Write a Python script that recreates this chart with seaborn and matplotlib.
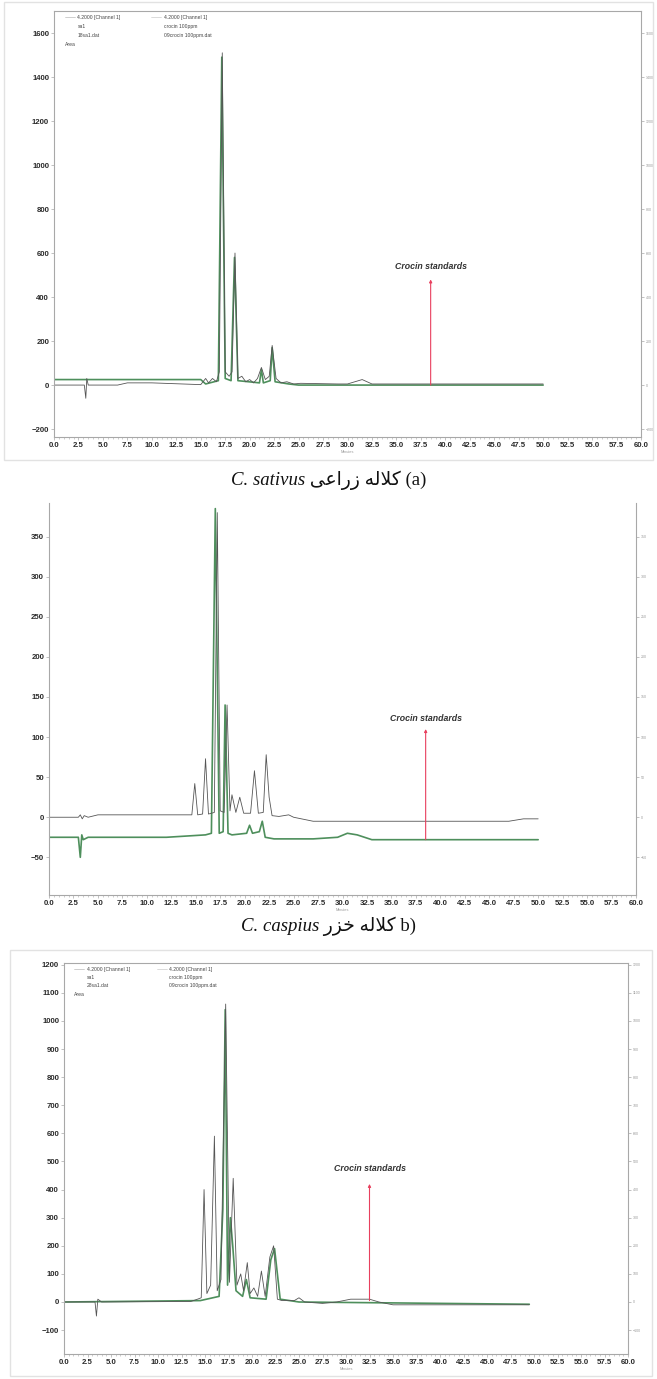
import matplotlib
matplotlib.use("Agg")
import matplotlib.pyplot as plt
import seaborn as sns
from matplotlib.offsetbox import TextArea, HPacker, AnnotationBbox
from matplotlib.ticker import MultipleLocator, FormatStrFormatter

sns.set_theme(style="white")
plt.rcParams['font.family'] = ['Liberation Sans', 'DejaVu Sans']

# ---------------- data ----------------
# Panel (a) C. sativus
a_sample_t = [0, 3.1, 3.25, 3.35, 3.5, 6.5, 7.5, 10.0, 15.0, 15.5, 15.8, 16.2, 16.6, 16.9, 17.2, 17.5, 17.9, 18.2, 18.5,
              18.8, 19.2, 19.6, 20.0, 20.4, 20.8, 21.2, 21.6, 22.0, 22.3, 22.7, 23.2, 23.8, 24.5, 25.2, 29.0, 30.0, 31.5,
              32.5, 50.0]
a_sample_y = [0, 0, -60, 30, 0, 0, 10, 10, 2, 30, 10, 30, 15, 60, 1510, 60, 40, 60, 600,
              30, 40, 15, 25, 10, 30, 80, 25, 40, 180, 30, 10, 15, 5, 8, 5, 5, 25,
              5, 5]
a_std_t = [0, 15.0, 15.5, 16.8, 17.15, 17.5, 18.1, 18.45, 18.8, 21.0, 21.2, 21.4, 22.1, 22.3, 22.6, 24.0, 25.0, 50.0]
a_std_y = [25, 25, 5, 20, 1490, 30, 20, 580, 20, 10, 70, 10, 20, 170, 15, 5, 0, 0]
a_red = (38.5, 0, 480, 520)

# Panel (b) C. caspius
b_sample_t = [0, 3.0, 3.2, 3.4, 3.6, 4.0, 5.0, 12.0, 14.6, 14.9, 15.2, 15.7, 16.0, 16.3, 16.9, 17.2, 17.5, 17.9, 18.2,
              18.5, 18.7, 19.1, 19.5, 19.9, 20.6, 21.0, 21.4, 21.9, 22.2, 22.5, 22.8, 23.5, 24.5, 25.0, 27.0, 47.0,
              48.5, 50.0]
b_sample_y = [0, 0, 3, -2, 2, 0, 3, 3, 3, 42, 3, 4, 73, 4, 6, 380, 8, 6, 140,
              8, 28, 6, 25, 5, 5, 58, 5, 6, 78, 25, 2, 1, 3, 0, -5, -5,
              -2, -2]
b_std_t = [0, 3.0, 3.2, 3.35, 3.5, 4.0, 12.0, 16.0, 16.6, 17.0, 17.4, 17.8, 18.0, 18.3, 18.7, 20.2, 20.5, 20.8, 21.5,
           21.8, 22.1, 23.0, 27.0, 29.5, 30.5, 31.5, 33.0, 50.0]
b_std_y = [-25, -25, -50, -22, -28, -25, -25, -22, -20, 385, -20, -18, 140, -20, -22, -20, -10, -20, -18,
           -5, -25, -27, -27, -25, -20, -22, -28, -28]
b_red = (38.5, -28, 110, 118)

# Panel (c)
c_sample_t = [0, 3.3, 3.45, 3.6, 4.0, 13.5, 14.2, 14.6, 14.9, 15.2, 15.6, 16.0, 16.3, 16.7, 17.2, 17.6, 18.0, 18.4,
              18.8, 19.1, 19.5, 19.8, 20.2, 20.6, 21.0, 21.4, 21.9, 22.3, 22.7, 23.2, 24.5, 25.0, 25.6, 27.5, 29.0,
              30.5, 32.5, 33.5, 35.0, 49.5]
c_sample_y = [0, 0, -50, 10, 0, 2, 10, 15, 400, 30, 60, 590, 40, 80, 1060, 70, 440, 60,
              100, 40, 140, 30, 50, 20, 110, 20, 160, 200, 10, 5, 5, 15, 0, -5, 0,
              10, 10, 0, -10, -10]
c_std_t = [0, 14.5, 16.5, 16.9, 17.15, 17.4, 17.7, 17.95, 18.3, 19.0, 19.4, 19.8, 21.5, 22.0, 22.4, 23.0, 25.0, 49.5]
c_std_y = [0, 5, 20, 330, 1040, 60, 300, 200, 40, 20, 80, 15, 10, 150, 190, 10, 0, -8]
c_red = (32.5, 5, 420, 460)

a_yticks = [-200, 0, 200, 400, 600, 800, 1000, 1200, 1400, 1600]
b_yticks = [-50, 0, 50, 100, 150, 200, 250, 300, 350]
c_yticks = [-100, 0, 100, 200, 300, 400, 500, 600, 700, 800, 900, 1000, 1100, 1200]

legend_a = (["4.2000 [Channel 1]", "sa1", "18sa1.dat"], ["4.2000 [Channel 1]", "crocin 100ppm", "09crocin 100ppm.dat"])
legend_c = (["4.2000 [Channel 1]", "sa1", "28sa1.dat"], ["4.2000 [Channel 1]", "crocin 100ppm", "09crocin 100ppm.dat"])

# Persian words in presentation forms, visual (left-to-right) order
KALALE = "\uFEEA\uFEDF\uFEFC\uFEDB"
ZERAEI = "\uFEF0\uFECB\uFE8D\uFEAD\uFEAF"
KHAZAR = "\uFEAD\uFEB0\uFEA7"

GREEN = "#4e8f5c"
GRAY = "#555555"
RED = "#e8405e"
SPINE = "#a8a8a8"

W, H = 657, 1379
fig = plt.figure(figsize=(W / 100, H / 100), dpi=100)
fig.patch.set_facecolor("white")


def rect(left, top, right, bottom):
    return [left / W, 1 - bottom / H, (right - left) / W, (bottom - top) / H]


def panel(r, st, sy, gt, gy, ylim, yticks, red, legend=None, top_spine=True):
    ax = fig.add_axes(r)
    sns.lineplot(x=gt, y=gy, ax=ax, color=GREEN, lw=1.2, estimator=None, sort=False)
    sns.lineplot(x=st, y=sy, ax=ax, color=GRAY, lw=0.6, estimator=None, sort=False)
    rx, r0, r1, ty = red
    ax.annotate("", xy=(rx, r1), xytext=(rx, r0),
                arrowprops=dict(arrowstyle="-|>", color=RED, lw=0.8, mutation_scale=4, shrinkA=0, shrinkB=0),
                zorder=5)
    ax.text(rx, ty, "Crocin standards", ha="center", va="bottom", fontsize=6.3,
            fontweight="bold", fontstyle="italic", color="#333333")
    ax.set_xlim(0, 60)
    ax.set_ylim(*ylim)
    ax.xaxis.set_major_locator(MultipleLocator(2.5))
    ax.xaxis.set_minor_locator(MultipleLocator(0.5))
    ax.xaxis.set_major_formatter(FormatStrFormatter("%.1f"))
    ax.set_yticks(yticks)
    ax.tick_params(axis="both", which="major", labelsize=5.6, length=2, width=0.5, color=SPINE,
                   labelcolor="#2a2a2a", pad=1.5, bottom=True, left=True)
    ax.tick_params(axis="x", which="minor", length=1.2, width=0.4, color=SPINE, bottom=True)
    for lab in ax.get_xticklabels() + ax.get_yticklabels():
        lab.set_fontweight("bold")
    ax.set_xlabel("Minutes", fontsize=2.8, color="#999999", labelpad=1)
    ax.set_ylabel("")
    for s in ax.spines.values():
        s.set_color(SPINE)
        s.set_linewidth(0.8)
    ax.spines["top"].set_visible(top_spine)
    ax2 = ax.twinx()
    ax2.set_ylim(*ylim)
    ax2.set_yticks(yticks)
    ax2.tick_params(axis="y", labelsize=2.6, length=2, width=0.5, color=SPINE, labelcolor="#999999", pad=1.5)
    for s in ax2.spines.values():
        s.set_visible(False)
    if legend is not None:
        col1, col2 = legend
        ax.plot([0.018, 0.035], [0.985, 0.985], transform=ax.transAxes, color="#bbbbbb", lw=0.5)
        ax.plot([0.165, 0.182], [0.985, 0.985], transform=ax.transAxes, color="#cccccc", lw=0.5)
        for i, t in enumerate(col1):
            ax.text(0.04, 0.99 - i * 0.021, t, transform=ax.transAxes, fontsize=3.6, va="top", color="#444444")
        for i, t in enumerate(col2):
            ax.text(0.187, 0.99 - i * 0.021, t, transform=ax.transAxes, fontsize=3.6, va="top", color="#444444")
        ax.text(0.018, 0.99 - 3 * 0.021, "Area", transform=ax.transAxes, fontsize=3.6, va="top", color="#444444")
    return ax


panel(rect(54, 11, 641, 437), a_sample_t, a_sample_y, a_std_t, a_std_y, (-236, 1700), a_yticks, a_red, legend_a)
panel(rect(49, 503, 636, 895), b_sample_t, b_sample_y, b_std_t, b_std_y, (-97, 392), b_yticks, b_red,
      None, top_spine=False)
panel(rect(64, 963, 628, 1354), c_sample_t, c_sample_y, c_std_t, c_std_y, (-185, 1206), c_yticks, c_red, legend_c)

# screenshot frames
for (l, t, r_, b) in [(4, 2, 653, 460), (10, 950, 652, 1376)]:
    fig.add_artist(plt.Rectangle((l / W, 1 - b / H), (r_ - l) / W, (b - t) / H, transform=fig.transFigure,
                                 fill=False, ec="#e2e2e2", lw=1.0))


def caption(yc, species, persian, label):
    kw = dict(size=13.5, color="#111111")
    parts = [TextArea(species, textprops=dict(family="Liberation Serif", style="italic", **kw)),
             TextArea(" " + persian + " " + label, textprops=dict(family=["Liberation Serif", "DejaVu Sans"], **kw))]
    box = HPacker(children=parts, align="baseline", pad=0, sep=0)
    ab = AnnotationBbox(box, (0.5, 1 - yc / H), xycoords="figure fraction", frameon=False, box_alignment=(0.5, 0.5))
    fig.add_artist(ab)


caption(480, "C. sativus", ZERAEI + " " + KALALE, "(a)")
caption(926, "C. caspius", KHAZAR + " " + KALALE, "b)")

fig.savefig("out.png", dpi=100)
